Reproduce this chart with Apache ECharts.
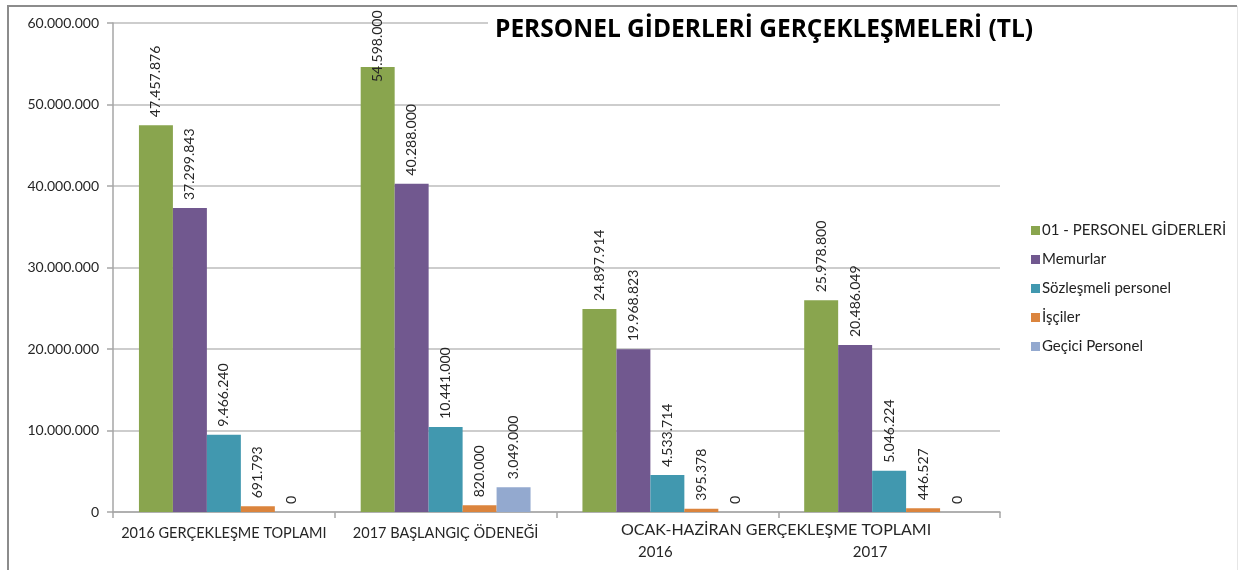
<!DOCTYPE html>
<html>
<head>
<meta charset="utf-8">
<script src="https://cdn.jsdelivr.net/npm/echarts@6/dist/echarts.min.js"></script>
<style>
  html, body { margin: 0; padding: 0; background: #fff; }
  #chart { width: 1239px; height: 570px; }
</style>
</head>
<body>
<div id="chart"></div>
<script>
"use strict";

var categories = [
  "2016 GERÇEKLEŞME TOPLAMI",
  "2017 BAŞLANGIÇ ÖDENEĞİ",
  "OCAK-HAZİRAN GERÇEKLEŞME TOPLAMI 2016",
  "OCAK-HAZİRAN GERÇEKLEŞME TOPLAMI 2017"
];
var seriesNames = [
  "01 - PERSONEL GİDERLERİ",
  "Memurlar",
  "Sözleşmeli personel",
  "İşçiler",
  "Geçici Personel"
];
var personelGiderleri = [47457876, 54598000, 24897914, 25978800];
var memurlar = [37299843, 40288000, 19968823, 20486049];
var sozlesmeli = [9466240, 10441000, 4533714, 5046224];
var isciler = [691793, 820000, 395378, 446527];
var gecici = [0, 3049000, 0, 0];
var yTicks = [0, 10000000, 20000000, 30000000, 40000000, 50000000, 60000000];

var colors = ["#89A54E", "#71588F", "#4198AF", "#DB843D", "#93A9CF"];
var font = "Lato, 'Open Sans', sans-serif";

function fmt(v) {
  return String(v).replace(/\B(?=(\d{3})+(?!\d))/g, ".");
}

// labels that would run past the top of the plot are pulled down into the bar
function toData(arr) {
  return arr.map(function (v) {
    if (v > 52000000) {
      return { value: v, label: { position: ["50%", 15] } };
    }
    return v;
  });
}

var allData = [personelGiderleri, memurlar, sozlesmeli, isciler, gecici];

var series = allData.map(function (arr, i) {
  return {
    name: seriesNames[i],
    type: "bar",
    barGap: "0%",
    barCategoryGap: "23.4%",
    data: toData(arr),
    itemStyle: { color: colors[i] },
    label: {
      show: true,
      position: "top",
      distance: 8,
      rotate: 90,
      align: "left",
      verticalAlign: "middle",
      fontFamily: font,
      fontSize: 14,
      color: "#262626",
      formatter: function (p) {
        return fmt(p.value);
      }
    }
  };
});

var chart = echarts.init(document.getElementById("chart"));

chart.setOption({
  animation: false,
  color: colors,
  title: {
    text: "PERSONEL GİDERLERİ GERÇEKLEŞMELERİ (TL)",
    left: 488,
    top: 14,
    padding: [4, 7],
    backgroundColor: "#fff",
    textStyle: {
      fontFamily: "'Open Sans', Lato, sans-serif",
      fontWeight: "bold",
      fontSize: 24.5,
      color: "#000"
    }
  },
  legend: {
    orient: "vertical",
    left: 1026,
    top: 218,
    itemWidth: 9,
    itemHeight: 9,
    itemGap: 14,
    icon: "rect",
    data: seriesNames,
    textStyle: {
      fontFamily: font,
      fontSize: 15,
      color: "#222",
      padding: [0, 0, 0, -3]
    }
  },
  grid: {
    left: 113,
    right: 239,
    top: 23,
    bottom: 58
  },
  xAxis: {
    type: "category",
    data: categories,
    axisLine: { lineStyle: { color: "#a6a6a6", width: 1.5 } },
    axisTick: { show: true, length: 6, lineStyle: { color: "#a6a6a6", width: 1.5 } },
    axisLabel: {
      interval: 0,
      margin: 12,
      fontFamily: font,
      fontSize: 14.5,
      color: "#262626",
      lineHeight: 19,
      formatter: function (v, idx) {
        if (v.indexOf("OCAK-HAZİRAN") === 0) {
          return "\n{y" + idx + "|" + v.slice(-4) + "}";
        }
        return v;
      },
      rich: {
        y2: { padding: [0, 24, 0, 0], fontFamily: font, fontSize: 15, color: "#262626" },
        y3: { padding: [0, 38, 0, 0], fontFamily: font, fontSize: 15, color: "#262626" }
      }
    }
  },
  yAxis: {
    type: "value",
    min: yTicks[0],
    max: yTicks[yTicks.length - 1],
    interval: yTicks[1] - yTicks[0],
    axisLine: { show: true, lineStyle: { color: "#a6a6a6", width: 1.5 } },
    axisTick: { show: true, length: 6, lineStyle: { color: "#a6a6a6", width: 1.5 } },
    splitLine: { lineStyle: { color: "#bdbdbd", width: 1.5 } },
    axisLabel: {
      margin: 14,
      fontFamily: font,
      fontSize: 14,
      color: "#262626",
      formatter: function (v) {
        return fmt(v);
      }
    }
  },
  graphic: [
    {
      type: "polyline",
      silent: true,
      shape: { points: [[8, 580], [8, 6], [1237, 6]] },
      style: { fill: null, stroke: "#8c8c8c", lineWidth: 2 }
    },
    {
      type: "line",
      silent: true,
      shape: { x1: 1237.5, y1: 6, x2: 1237.5, y2: 570 },
      style: { stroke: "#e6e6e6", lineWidth: 1 }
    },
    {
      type: "text",
      silent: true,
      left: 621,
      top: 522,
      style: {
        text: "OCAK-HAZİRAN GERÇEKLEŞME TOPLAMI",
        fontFamily: font,
        fontSize: 16,
        fill: "#262626"
      }
    }
  ],
  series: series
});
</script>
</body>
</html>
